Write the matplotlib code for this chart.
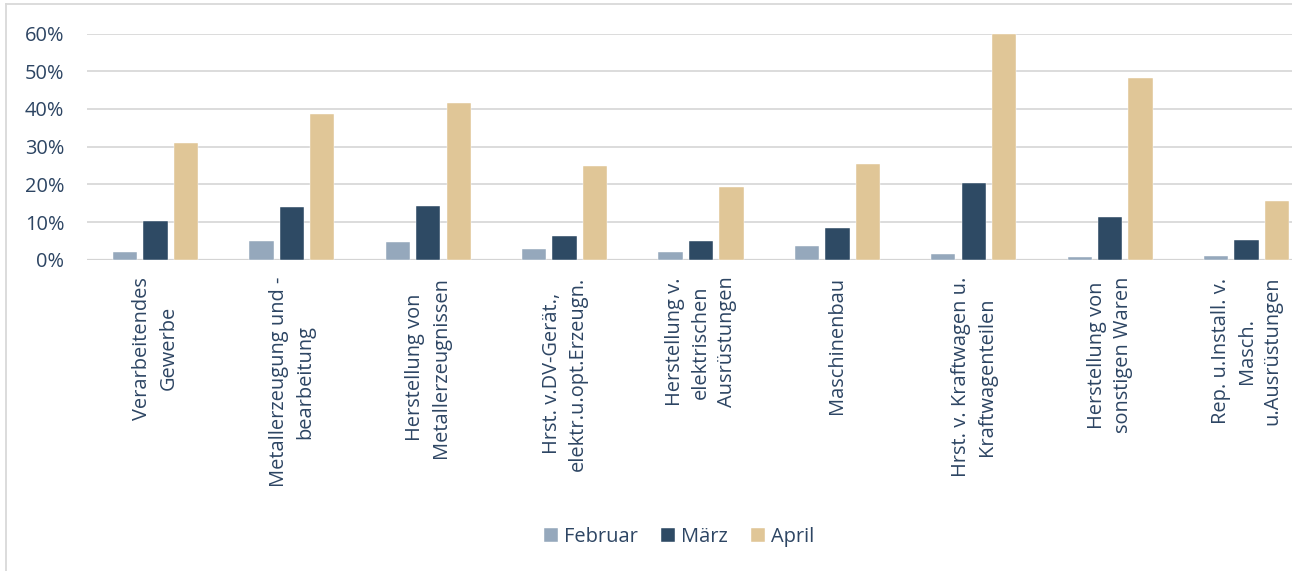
import numpy as np
import matplotlib
matplotlib.use("Agg")
import matplotlib.pyplot as plt
from matplotlib.lines import Line2D
from matplotlib.ticker import FuncFormatter

# -----------------------------
# data (values in %)
# -----------------------------
categories = [
    "Verarbeitendes\nGewerbe",
    "Metallerzeugung und -\nbearbeitung",
    "Herstellung von\nMetallerzeugnissen",
    "Hrst. v.DV-Gerät.,\nelektr.u.opt.Erzeugn.",
    "Herstellung v.\nelektrischen\nAusrüstungen",
    "Maschinenbau",
    "Hrst. v. Kraftwagen u.\nKraftwagenteilen",
    "Herstellung von\nsonstigen Waren",
    "Rep. u.Install. v.\nMasch.\nu.Ausrüstungen",
]
februar = [2.2, 5.1, 4.7, 2.9, 2.1, 3.7, 1.6, 0.7, 1.1]
maerz = [10.2, 14.1, 14.4, 6.3, 5.0, 8.6, 20.4, 11.3, 5.3]
april = [31.1, 38.7, 41.5, 24.9, 19.4, 25.5, 60.0, 48.2, 15.6]

series_names = ["Februar", "März", "April"]
colors = ["#95a8bc", "#2e4a64", "#e0c697"]
text_color = "#2d4563"
grid_color = "#d9d9d9"

plt.rcParams["font.family"] = ["Open Sans", "DejaVu Sans"]
fs = 14.4

W, H = 1292, 571
fig = plt.figure(figsize=(W / 100, H / 100), dpi=100)
ax = fig.add_axes([87.3 / W, 1 - 260 / H, 1227.4 / W, 226.5 / H])

x = np.arange(len(categories))
bw = 0.178
step = 0.2236
for i, (vals, name, c) in enumerate(zip([februar, maerz, april], series_names, colors)):
    ax.bar(x + (i - 1) * step, vals, width=bw, color=c, edgecolor="white",
           linewidth=0.3, label=name, zorder=3)

ax.set_xlim(-0.5, len(categories) - 0.5)
ax.set_ylim(0, 60)
ax.set_yticks(np.arange(0, 61, 10))
ax.yaxis.set_major_formatter(FuncFormatter(lambda v, p: f"{v:.0f}%"))
ax.grid(axis="y", color=grid_color, linewidth=1.3, zorder=0)
ax.set_axisbelow(True)
for s in ax.spines.values():
    s.set_visible(False)
ax.axhline(0, color="#d4d4d4", linewidth=1.6, zorder=2)

ax.set_xticks(x)
ax.set_xticklabels(categories, rotation=90, ha="center", va="top",
                   multialignment="center", linespacing=1.4)
ax.tick_params(axis="x", length=0, pad=12, labelsize=fs, labelcolor=text_color)
ax.tick_params(axis="y", length=0, pad=16.5, labelsize=fs, labelcolor=text_color)

leg = fig.legend(loc="center", bbox_to_anchor=(679 / W, 1 - 537 / H), ncol=3,
                 frameon=False, fontsize=fs, handlelength=0.7, handleheight=0.7,
                 handletextpad=0.3, columnspacing=1.15, borderpad=0)
for t in leg.get_texts():
    t.set_color(text_color)

# chart area border (top and left visible)
fig.add_artist(Line2D([5.5 / W, 1], [1 - 4 / H, 1 - 4 / H], color=grid_color,
                      linewidth=1.3, transform=fig.transFigure))
fig.add_artist(Line2D([5.5 / W, 5.5 / W], [0, 1 - 4 / H], color=grid_color,
                      linewidth=1.3, transform=fig.transFigure))

fig.savefig("out.png", dpi=100, facecolor="white")
